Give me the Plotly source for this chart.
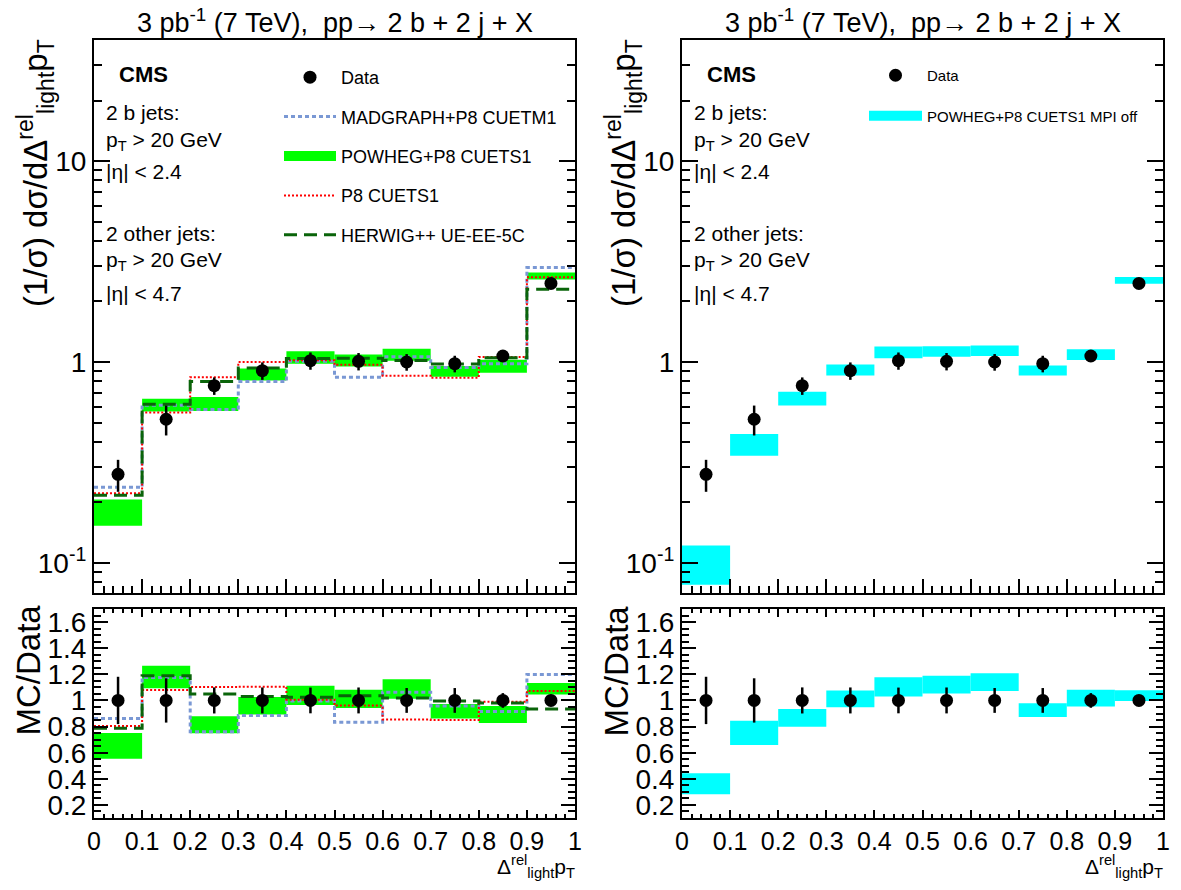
import plotly.graph_objects as go
import math

# ---------------- data ----------------
edges = [0.0, 0.1, 0.2, 0.3, 0.4, 0.5, 0.6, 0.7, 0.8, 0.9, 1.0]
centers = [0.05, 0.15, 0.25, 0.35, 0.45, 0.55, 0.65, 0.75, 0.85, 0.95]

data_val = [0.276, 0.519, 0.762, 0.905, 1.015, 1.008, 1.000, 0.981, 1.071, 2.46]
data_err = [0.050, 0.088, 0.076, 0.090, 0.100, 0.100, 0.095, 0.093, 0.060, 0.040]

madgraph = [0.238, 0.610, 0.580, 0.800, 1.010, 0.840, 1.063, 0.940, 0.980, 2.95]
powheg_c = [0.180, 0.612, 0.620, 0.868, 1.055, 1.020, 1.088, 0.900, 0.955, 2.68]
powheg_h = [0.027, 0.045, 0.050, 0.060, 0.075, 0.070, 0.075, 0.055, 0.070, 0.11]
p8 = [0.222, 0.560, 0.840, 1.000, 1.020, 0.968, 0.855, 0.835, 1.060, 2.64]
herwig = [0.217, 0.617, 0.800, 0.933, 1.040, 1.045, 1.018, 0.977, 1.050, 2.30]

mpioff_c = [0.100, 0.390, 0.660, 0.915, 1.120, 1.130, 1.140, 0.908, 1.090, 2.55]
mpioff_h = [0.022, 0.048, 0.052, 0.058, 0.075, 0.068, 0.068, 0.052, 0.068, 0.10]

FONT = "Liberation Sans, Arial, sans-serif"
W, H = 1181, 890
OFF = 8  # the page body margin shifts the figure by this many pixels


def px(x):
    return (x - OFF) / W


def py(y):
    return 1 - (y - OFF) / H


def ratio(v):
    return [a / d for a, d in zip(v, data_val)]


def step_y(v):
    return list(v) + [v[-1]]


fig = go.Figure()

MG_LINE = dict(color="#7a98d4", width=3, dash="4px,3px")
P8_LINE = dict(color="#ff0000", width=2, dash="2px,2px")
HW_LINE = dict(color="#0a640a", width=3, dash="13px,7px")
GREEN = "#00ff00"
CYAN = "#00ffff"


def legend_box(name, color, legend, group, rank):
    # legend-only proxy so the legend shows a wide filled box like the original
    fig.add_trace(go.Scatter(x=[None], y=[None], mode="lines", line=dict(color=color, width=26),
                             name=name, showlegend=True, legend=legend, legendgroup=group,
                             legendrank=rank, hoverinfo="skip"))


def add_set(xa, ya, ratio_mode, legend_on):
    tr = ratio if ratio_mode else (lambda v: list(v))
    c = tr(powheg_c)
    h = [hh / d for hh, d in zip(powheg_h, data_val)] if ratio_mode else powheg_h
    fig.add_trace(go.Bar(x=centers, y=[2 * v for v in h], base=[a - b for a, b in zip(c, h)],
                         width=0.1, marker=dict(color=GREEN, line=dict(width=0)),
                         name="POWHEG+P8 CUETS1", xaxis=xa, yaxis=ya, showlegend=False))
    fig.add_trace(go.Scatter(x=edges, y=step_y(tr(madgraph)), mode="lines", line_shape="hv",
                             line=MG_LINE, name="MADGRAPH+P8 CUETM1", xaxis=xa, yaxis=ya,
                             showlegend=legend_on, legendgroup="mg", legendrank=2))
    fig.add_trace(go.Scatter(x=edges, y=step_y(tr(p8)), mode="lines", line_shape="hv",
                             line=P8_LINE, name="P8 CUETS1", xaxis=xa, yaxis=ya,
                             showlegend=legend_on, legendgroup="p8", legendrank=4))
    fig.add_trace(go.Scatter(x=edges, y=step_y(tr(herwig)), mode="lines", line_shape="hv",
                             line=HW_LINE, name="HERWIG++ UE-EE-5C", xaxis=xa, yaxis=ya,
                             showlegend=legend_on, legendgroup="hw", legendrank=5))
    dv = tr(data_val)
    de = [e / d for e, d in zip(data_err, data_val)] if ratio_mode else data_err
    fig.add_trace(go.Scatter(x=centers, y=dv, mode="markers", marker=dict(size=13, color="black"),
                             error_y=dict(type="data", array=de, color="black", thickness=2.5, width=0),
                             name="Data", xaxis=xa, yaxis=ya,
                             showlegend=legend_on, legendgroup="data", legendrank=1))


def add_mpi(xa, ya, ratio_mode, legend_on):
    tr = ratio if ratio_mode else (lambda v: list(v))
    c = tr(mpioff_c)
    h = [hh / d for hh, d in zip(mpioff_h, data_val)] if ratio_mode else mpioff_h
    fig.add_trace(go.Bar(x=centers, y=[2 * v for v in h], base=[a - b for a, b in zip(c, h)],
                         width=0.1, marker=dict(color=CYAN, line=dict(width=0)),
                         name="POWHEG+P8 CUETS1 MPI off", xaxis=xa, yaxis=ya, showlegend=False))
    dv = tr(data_val)
    de = [e / d for e, d in zip(data_err, data_val)] if ratio_mode else data_err
    fig.add_trace(go.Scatter(x=centers, y=dv, mode="markers", marker=dict(size=13, color="black"),
                             error_y=dict(type="data", array=de, color="black", thickness=2.5, width=0),
                             name="Data", xaxis=xa, yaxis=ya,
                             showlegend=legend_on, legend="legend2", legendgroup="data2", legendrank=1))


add_set("x", "y", False, True)
add_set("x2", "y2", True, False)
add_mpi("x3", "y3", False, True)
add_mpi("x4", "y4", True, False)
legend_box("POWHEG+P8 CUETS1", GREEN, "legend", "pw", 3)
legend_box("POWHEG+P8 CUETS1 MPI off", CYAN, "legend2", "mpi", 2)

L = [px(94), px(575)]
R = [px(682), px(1163)]
TOP = [py(593), py(40)]
RAT = [py(818), py(609)]

base_ax = dict(showline=True, linecolor="black", linewidth=2, showgrid=False, zeroline=False,
               tickcolor="black", tickwidth=1.5, automargin=False)

log_minor = [0.08, 0.09] + [i * 0.1 for i in range(2, 10)] + [float(i) for i in range(2, 10)] + [20.0, 30.0]


def top_x(dom, anchor):
    return dict(base_ax, domain=dom, anchor=anchor, range=[0, 1], showticklabels=False,
                ticks="inside", ticklen=14, tick0=0, dtick=0.1, mirror=True,
                minor=dict(ticks="inside", ticklen=7, tick0=0, dtick=0.02, tickcolor="black", tickwidth=1.5))


def top_y(dom, anchor):
    return dict(base_ax, domain=dom, anchor=anchor, type="log",
                range=[math.log10(0.0709), math.log10(40.0)],
                tickmode="array", tickvals=[0.1, 1, 10], ticktext=["10<sup>-1</sup>", "1", "10"],
                ticks="inside", ticklen=16, mirror="ticks",
                tickfont=dict(family=FONT, size=28, color="black"),
                minor=dict(ticks="inside", ticklen=8, tickmode="array", tickvals=log_minor,
                           tickcolor="black", tickwidth=1.5))


def rat_x(dom, anchor):
    return dict(base_ax, domain=dom, anchor=anchor, range=[0, 1], tick0=0, dtick=0.1,
                ticks="inside", ticklen=8, mirror="ticks",
                tickfont=dict(family=FONT, size=25, color="black"),
                minor=dict(ticks="inside", ticklen=4, tick0=0, dtick=0.02, tickcolor="black", tickwidth=1.5))


rat_vals = [0.2, 0.4, 0.6, 0.8, 1.0, 1.2, 1.4, 1.6]
rat_text = ["0.2", "0.4", "0.6", "0.8", "1", "1.2", "1.4", "1.6"]


def rat_y(dom, anchor):
    return dict(base_ax, domain=dom, anchor=anchor, range=[0.1, 1.7], tickmode="array",
                tickvals=rat_vals, ticktext=rat_text, ticks="inside", ticklen=14, mirror="ticks",
                tickfont=dict(family=FONT, size=28, color="black"),
                minor=dict(ticks="inside", ticklen=7, tick0=0, dtick=0.05, tickcolor="black", tickwidth=1.5))


annotations = []


def ann(text, x, y, size, xanchor="left", yanchor="middle", angle=0, bold=False, pad=1):
    annotations.append(dict(text=("<b>%s</b>" % text) if bold else text, x=px(x), y=py(y),
                            xref="paper", yref="paper", xanchor=xanchor, yanchor=yanchor,
                            showarrow=False, textangle=angle, borderpad=pad,
                            font=dict(family=FONT, size=size, color="black")))


for off in (0, 588):
    ann("3 pb<sup>-1</sup> (7 TeV),  pp→ 2 b + 2 j + X", 335 + off, 21, 27, xanchor="center", pad=0)
    ann("CMS", 117 + off, 74, 22, bold=True)
    ann("2 b jets:", 104 + off, 113, 21)
    ann("p<sub>T</sub> > 20 GeV", 104 + off, 141, 21)
    ann("|η| < 2.4", 104 + off, 172, 21)
    ann("2 other jets:", 104 + off, 233, 21)
    ann("p<sub>T</sub> > 20 GeV", 104 + off, 261, 21)
    ann("|η| < 4.7", 104 + off, 293, 21)
    ann("(1/σ) dσ/dΔ<sup>rel</sup><sub>light</sub>p<sub>T</sub>", 35 + off, 37, 33,
        xanchor="center", yanchor="top", angle=-90)
    ann("MC/Data", 28 + off, 603, 33, xanchor="center", yanchor="top", angle=-90)
    ann("Δ<sup>rel</sup><sub>light</sub>p<sub>T</sub>", 577 + off, 866, 21, xanchor="right")

fig.update_layout(
    width=W, height=H, margin=dict(l=0, r=0, t=0, b=0, autoexpand=False),
    paper_bgcolor="white", plot_bgcolor="white", barmode="overlay",
    font=dict(family=FONT, color="black"),
    xaxis=top_x(L, "y"), yaxis=top_y(TOP, "x"),
    xaxis2=rat_x(L, "y2"), yaxis2=rat_y(RAT, "x2"),
    xaxis3=top_x(R, "y3"), yaxis3=top_y(TOP, "x3"),
    xaxis4=rat_x(R, "y4"), yaxis4=rat_y(RAT, "x4"),
    annotations=annotations,
    legend=dict(x=px(279), y=py(59), xanchor="left", yanchor="top", bgcolor="rgba(0,0,0,0)",
                font=dict(family=FONT, size=18, color="black"), itemwidth=52,
                tracegroupgap=13, traceorder="grouped"),
    legend2=dict(x=px(864), y=py(59), xanchor="left", yanchor="top", bgcolor="rgba(0,0,0,0)",
                 font=dict(family=FONT, size=15, color="black"), itemwidth=53,
                 tracegroupgap=18, traceorder="grouped"),
)

fig.write_html("out.html")
